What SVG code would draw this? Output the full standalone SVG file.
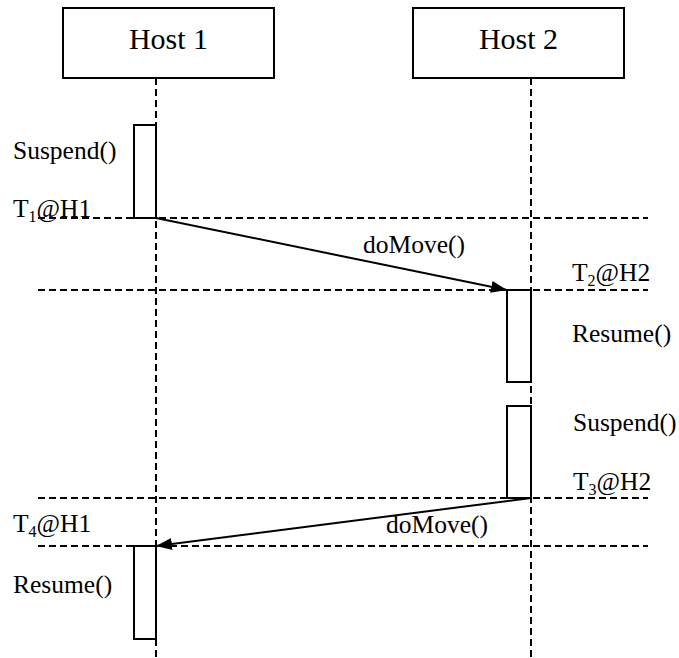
<svg xmlns="http://www.w3.org/2000/svg" width="679" height="658" viewBox="0 0 679 658">
  <style>
    .box { fill: #fff; stroke: #000; stroke-width: 2; }
    .dash { stroke: #000; stroke-width: 2; stroke-dasharray: 7 4; fill: none; }
    .msg { stroke: #000; stroke-width: 2; fill: none; }
    .head { font-family: "Liberation Serif", "Times New Roman", serif; font-size: 30px; fill: #000; }
    .lbl { font-family: "Liberation Serif", "Times New Roman", serif; font-size: 25.5px; fill: #000; }
    .sub { font-size: 16px; }
  </style>
  <defs>
    <marker id="arrow" markerUnits="userSpaceOnUse" markerWidth="18" markerHeight="14" refX="16" refY="7" orient="auto">
      <path d="M0,1 L16,7 L0,13 Z" fill="#000"/>
    </marker>
  </defs>

  <!-- time markers -->
  <g id="time-lines">
    <line class="dash" x1="38" y1="218" x2="648" y2="218"/>
    <line class="dash" x1="38" y1="290" x2="648" y2="290"/>
    <line class="dash" x1="38" y1="498" x2="648" y2="498"/>
    <line class="dash" x1="38" y1="546" x2="648" y2="546"/>
  </g>

  <!-- host 1 with lifeline and activations -->
  <g id="host1">
    <line class="dash" x1="156" y1="78" x2="156" y2="658"/>
    <rect class="box" x="63" y="8" width="211" height="70"/>
    <text class="head" x="168.5" y="49" text-anchor="middle">Host 1</text>
    <rect class="box" x="134" y="125" width="22" height="93"/>
    <rect class="box" x="134" y="546" width="22" height="93"/>
  </g>

  <!-- host 2 with lifeline and activations -->
  <g id="host2">
    <line class="dash" x1="531" y1="78" x2="531" y2="658"/>
    <rect class="box" x="413" y="8" width="211" height="70"/>
    <text class="head" x="518.5" y="49" text-anchor="middle">Host 2</text>
    <rect class="box" x="507" y="290" width="24" height="92"/>
    <rect class="box" x="507" y="406" width="24" height="92"/>
  </g>

  <!-- messages -->
  <g id="connectors">
    <line class="msg" x1="156" y1="218" x2="507" y2="290" marker-end="url(#arrow)"/>
    <line class="msg" x1="531" y1="498" x2="156" y2="546" marker-end="url(#arrow)"/>
  </g>

  <!-- labels -->
  <g id="labels">
    <text class="lbl" x="13" y="159">Suspend()</text>
    <text class="lbl" x="13" y="217">T<tspan class="sub" dy="5">1</tspan><tspan dy="-5">@H1</tspan></text>
    <text class="lbl" x="363" y="253">doMove()</text>
    <text class="lbl" x="572" y="281">T<tspan class="sub" dy="5">2</tspan><tspan dy="-5">@H2</tspan></text>
    <text class="lbl" x="572" y="342">Resume()</text>
    <text class="lbl" x="573" y="431">Suspend()</text>
    <text class="lbl" x="573" y="490">T<tspan class="sub" dy="5">3</tspan><tspan dy="-5">@H2</tspan></text>
    <text class="lbl" x="386" y="533">doMove()</text>
    <text class="lbl" x="13" y="532">T<tspan class="sub" dy="5">4</tspan><tspan dy="-5">@H1</tspan></text>
    <text class="lbl" x="13" y="593">Resume()</text>
  </g>
</svg>
